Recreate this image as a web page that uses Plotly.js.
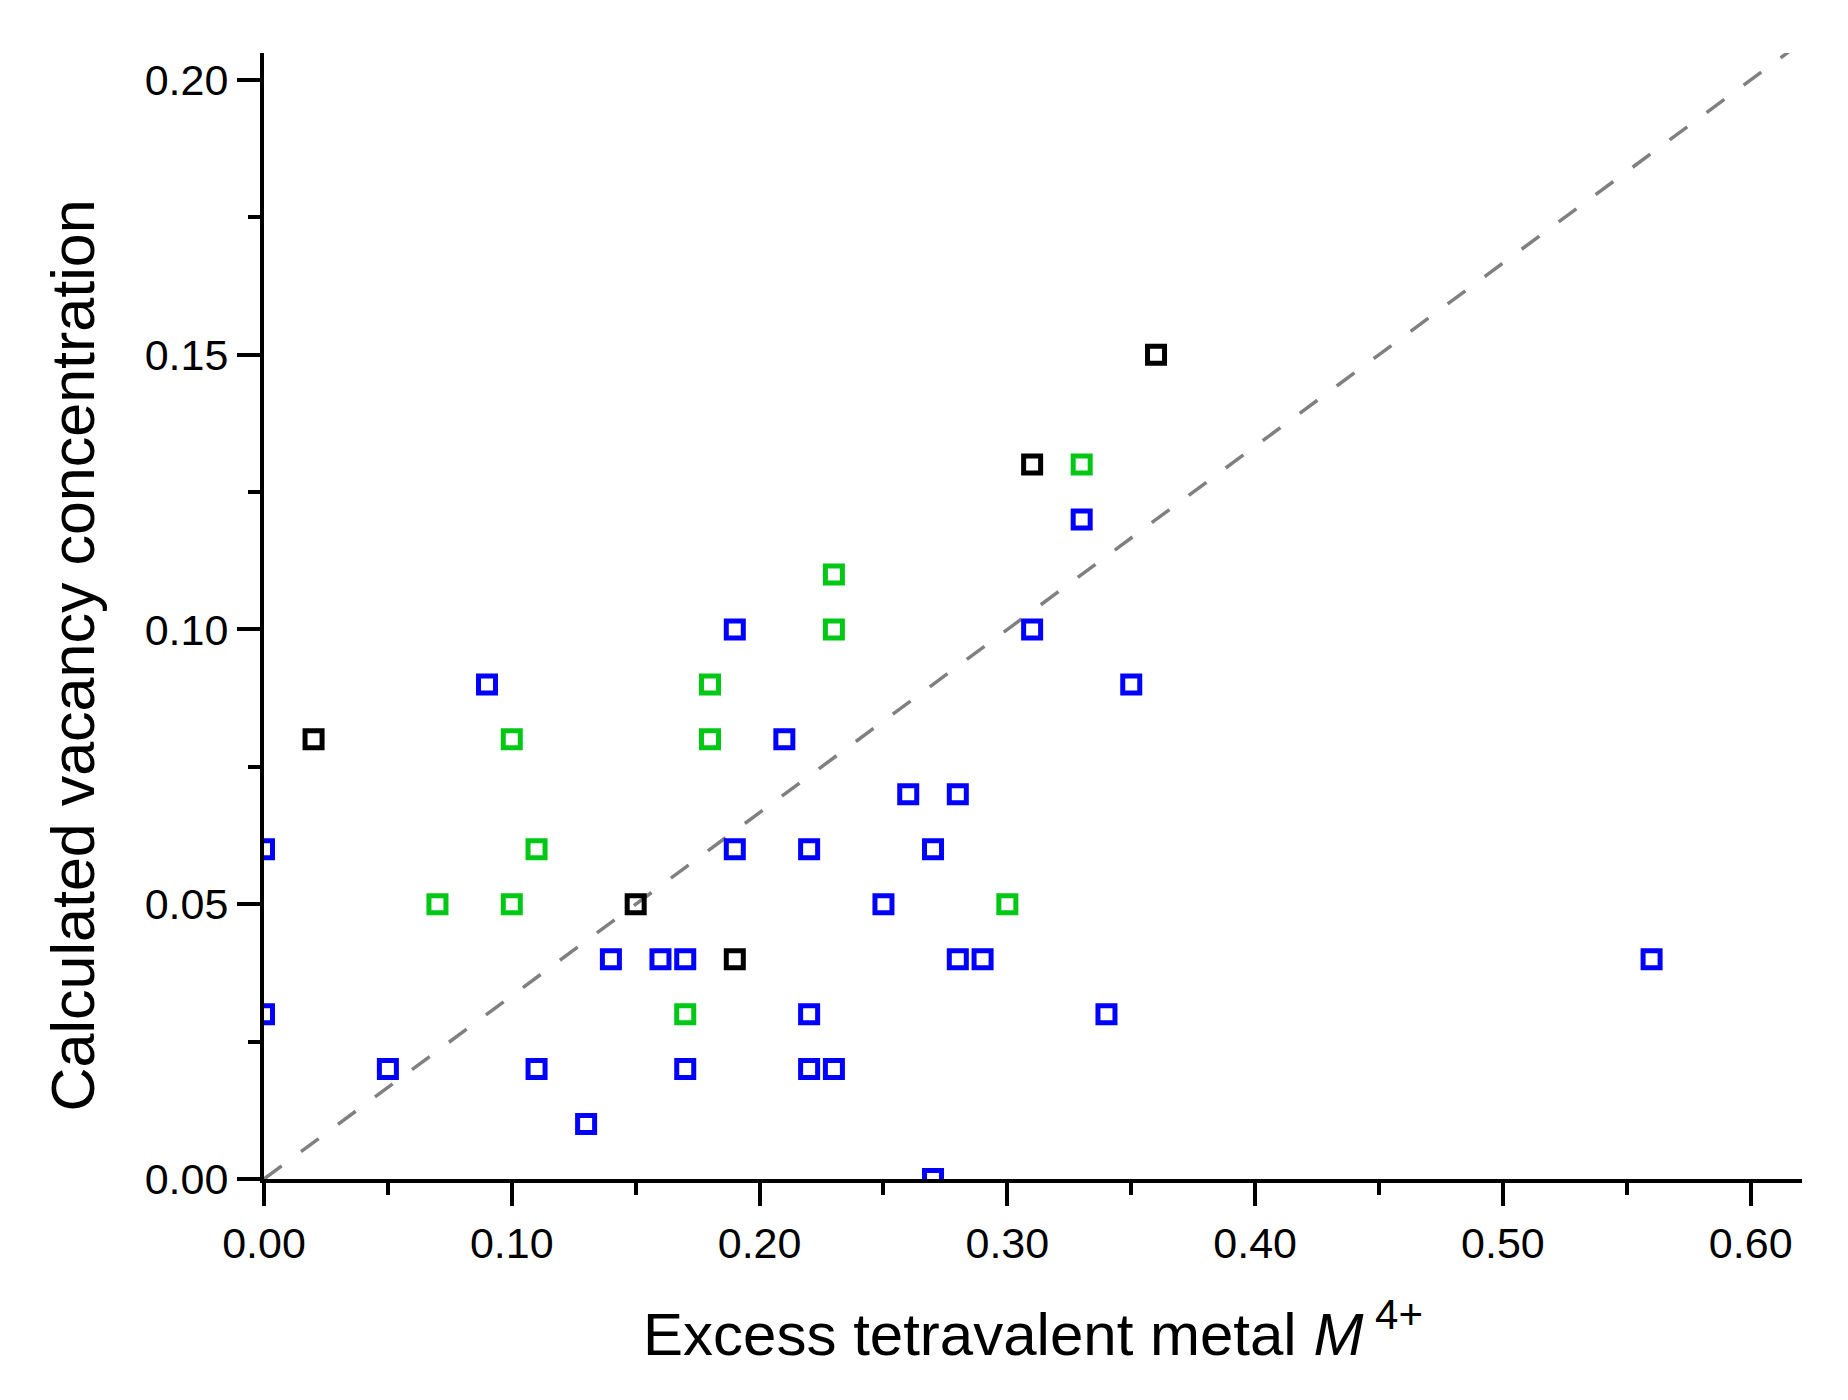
<!DOCTYPE html>
<html>
<head>
<meta charset="utf-8">
<script src="https://cdn.plot.ly/plotly-3.0.1.min.js"></script>
<style>
  html, body { margin: 0; padding: 0; background: #fff; }
  #chart { width: 1848px; height: 1400px; }
</style>
</head>
<body>
<div id="chart"></div>
<script>
// Blue series
const blueX = [0.00, 0.00, 0.05, 0.09, 0.11, 0.13, 0.14, 0.16, 0.17, 0.17, 0.19, 0.19, 0.21, 0.22, 0.22, 0.22,
               0.23, 0.25, 0.26, 0.27, 0.27, 0.28, 0.28, 0.29, 0.31, 0.33, 0.34, 0.35, 0.56];
const blueY = [0.06, 0.03, 0.02, 0.09, 0.02, 0.01, 0.04, 0.04, 0.04, 0.02, 0.10, 0.06, 0.08, 0.06, 0.03, 0.02,
               0.02, 0.05, 0.07, 0.06, 0.00, 0.07, 0.04, 0.04, 0.10, 0.12, 0.03, 0.09, 0.04];

// Green series
const greenX = [0.07, 0.10, 0.10, 0.11, 0.17, 0.18, 0.18, 0.23, 0.23, 0.30, 0.33];
const greenY = [0.05, 0.08, 0.05, 0.06, 0.03, 0.09, 0.08, 0.11, 0.10, 0.05, 0.13];

// Black series
const blackX = [0.02, 0.15, 0.19, 0.31, 0.36];
const blackY = [0.08, 0.05, 0.04, 0.13, 0.15];

// Reference line y = x / 3
const refX = [0, 0.63];
const refY = [0, 0.21];

const FONT = 'Arial, "Liberation Sans", sans-serif';

function squares(x, y, color) {
  return {
    type: 'scatter',
    mode: 'markers',
    x, y,
    marker: { symbol: 'square-open', size: 17, color, line: { color, width: 5 } },
    hoverinfo: 'x+y',
  };
}

const traces = [
  {
    type: 'scatter',
    mode: 'lines',
    x: refX, y: refY,
    line: { color: '#808080', width: 3.5, dash: '22px,24px' },
    hoverinfo: 'skip',
  },
  squares(blueX, blueY, '#0000ff'),
  squares(greenX, greenY, '#00c814'),
  squares(blackX, blackY, '#000000'),
];

const axisBase = {
  showline: true,
  linecolor: '#000',
  linewidth: 4,
  showgrid: false,
  zeroline: false,
  ticks: 'outside',
  ticklen: 23,
  tickwidth: 4,
  tickcolor: '#000',
  tickformat: '.2f',
  tickfont: { family: FONT, size: 43, color: '#000' },
  mirror: false,
};

const layout = {
  width: 1848,
  height: 1400,
  paper_bgcolor: '#fff',
  plot_bgcolor: '#fff',
  showlegend: false,
  margin: { l: 264, r: 46, t: 53, b: 221 },
  xaxis: {
    ...axisBase,
    range: [0, 0.6207],
    dtick: 0.1,
    tick0: 0,
    minor: { dtick: 0.05, ticks: 'outside', ticklen: 12, tickwidth: 4, tickcolor: '#000' },
    title: {
      text: 'Excess tetravalent metal <i>M</i><sup> 4+</sup>',
      font: { family: FONT, size: 60, color: '#000' },
      standoff: 48,
    },
  },
  yaxis: {
    ...axisBase,
    range: [0, 0.2049],
    dtick: 0.05,
    tick0: 0,
    minor: { dtick: 0.025, ticks: 'outside', ticklen: 12, tickwidth: 4, tickcolor: '#000' },
  },
  annotations: [{
    text: 'Calculated vacancy concentration',
    xref: 'paper', yref: 'paper',
    x: -0.1245, y: 0.4645,
    xanchor: 'center', yanchor: 'middle',
    textangle: -90,
    showarrow: false,
    font: { family: FONT, size: 61, color: '#000' },
  }],
};

Plotly.newPlot('chart', traces, layout, { displayModeBar: false, staticPlot: true });
</script>
</body>
</html>
